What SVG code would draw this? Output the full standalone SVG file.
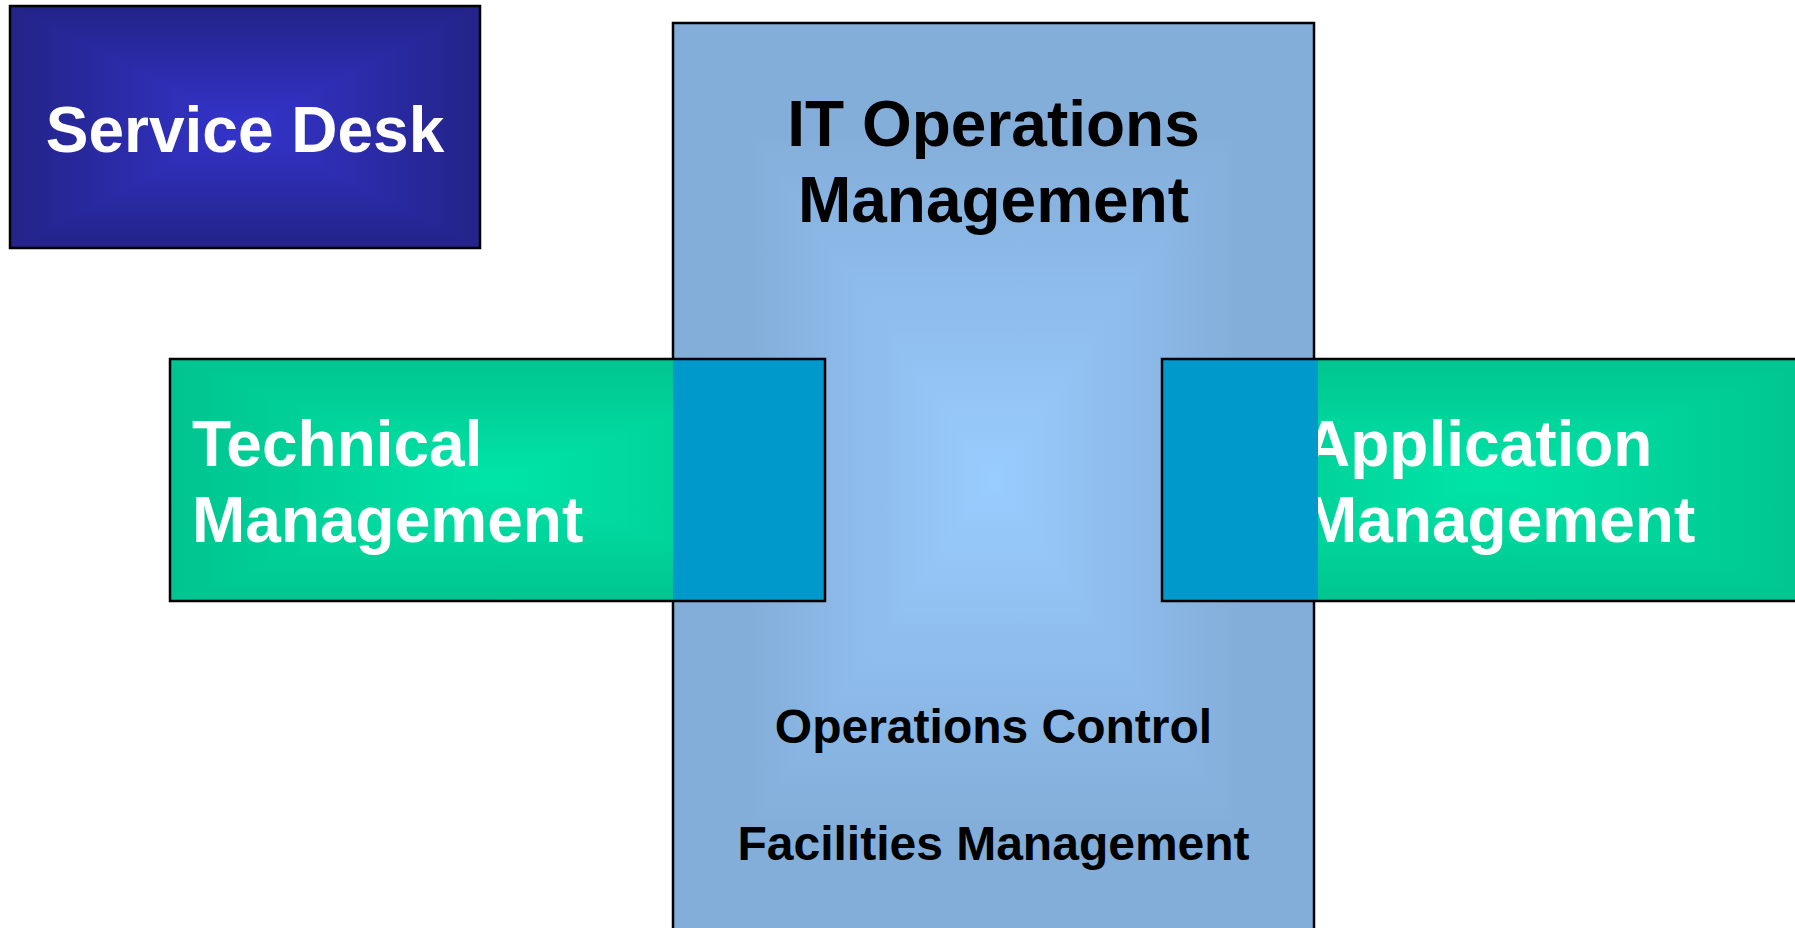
<svg xmlns="http://www.w3.org/2000/svg" width="1795" height="928" viewBox="0 0 1795 928">
<style>
.b{stroke:#000;stroke-width:2.5;fill:none}
.dk{mix-blend-mode:darken}
.iso{isolation:isolate}
.t{font-family:"Liberation Sans",Arial,sans-serif;font-weight:bold}
.w{fill:#fff;font-size:64px}
.k{fill:#000}
</style>
<defs>
<linearGradient id="sdH" x1="0" y1="0" x2="1" y2="0"><stop offset="0" stop-color="#232388"/><stop offset="0.5" stop-color="#3434CC"/><stop offset="1" stop-color="#232388"/></linearGradient>
<linearGradient id="sdV" x1="0" y1="0" x2="0" y2="1"><stop offset="0" stop-color="#232388"/><stop offset="0.5" stop-color="#3434CC"/><stop offset="1" stop-color="#232388"/></linearGradient>
<linearGradient id="itH" x1="0" y1="0" x2="1" y2="0"><stop offset="0" stop-color="#84AEDA"/><stop offset="0.12" stop-color="#84AEDA"/><stop offset="0.5" stop-color="#99CCFF"/><stop offset="0.88" stop-color="#84AEDA"/><stop offset="1" stop-color="#84AEDA"/></linearGradient>
<linearGradient id="itV" x1="0" y1="0" x2="0" y2="1"><stop offset="0" stop-color="#84AEDA"/><stop offset="0.12" stop-color="#84AEDA"/><stop offset="0.5" stop-color="#99CCFF"/><stop offset="0.88" stop-color="#84AEDA"/><stop offset="1" stop-color="#84AEDA"/></linearGradient>
<linearGradient id="gH" x1="0" y1="0" x2="1" y2="0"><stop offset="0" stop-color="#00C48F"/><stop offset="0.5" stop-color="#00E5A8"/><stop offset="1" stop-color="#00C48F"/></linearGradient>
<linearGradient id="gV" x1="0" y1="0" x2="0" y2="1"><stop offset="0" stop-color="#00C48F"/><stop offset="0.5" stop-color="#00E5A8"/><stop offset="1" stop-color="#00C48F"/></linearGradient>
</defs>
<rect width="1795" height="928" fill="#fff"/>

<g id="service-desk">
<g class="iso">
<rect x="10" y="6" width="470" height="242" fill="url(#sdH)"/>
<rect class="dk" x="10" y="6" width="470" height="242" fill="url(#sdV)"/>
</g>
<rect class="b" x="10" y="6" width="470" height="242"/>
<text class="t w" x="245" y="152" text-anchor="middle">Service Desk</text>
</g>

<g id="it-operations">
<g class="iso">
<rect x="673" y="23" width="641" height="914" fill="url(#itH)"/>
<rect class="dk" x="673" y="23" width="641" height="914" fill="url(#itV)"/>
</g>
<rect class="b" x="673" y="23" width="641" height="914"/>
<text class="t k" x="993.5" y="146" font-size="64" text-anchor="middle">IT Operations</text>
<text class="t k" x="993.5" y="222" font-size="64" text-anchor="middle">Management</text>
<text class="t k" x="993.5" y="743" font-size="48" text-anchor="middle">Operations Control</text>
<text class="t k" x="993.5" y="860" font-size="48" text-anchor="middle">Facilities Management</text>
</g>

<g id="technical-management">
<g class="iso">
<rect x="170" y="359" width="655" height="242" fill="url(#gH)"/>
<rect class="dk" x="170" y="359" width="655" height="242" fill="url(#gV)"/>
</g>
<rect x="673" y="359" width="152" height="242" fill="#0099CC"/>
<rect class="b" x="170" y="359" width="655" height="242"/>
<text class="t w" x="192" y="466">Technical</text>
<text class="t w" x="192" y="542">Management</text>
</g>

<g id="application-management">
<g class="iso">
<rect x="1162" y="359" width="655" height="242" fill="url(#gH)"/>
<rect class="dk" x="1162" y="359" width="655" height="242" fill="url(#gV)"/>
</g>
<text class="t w" x="1304" y="466">Application</text>
<text class="t w" x="1304" y="542">Management</text>
<rect x="1162" y="359" width="156" height="242" fill="#0099CC"/>
<rect class="b" x="1162" y="359" width="655" height="242"/>
</g>

<g id="connectors"></g>
</svg>
